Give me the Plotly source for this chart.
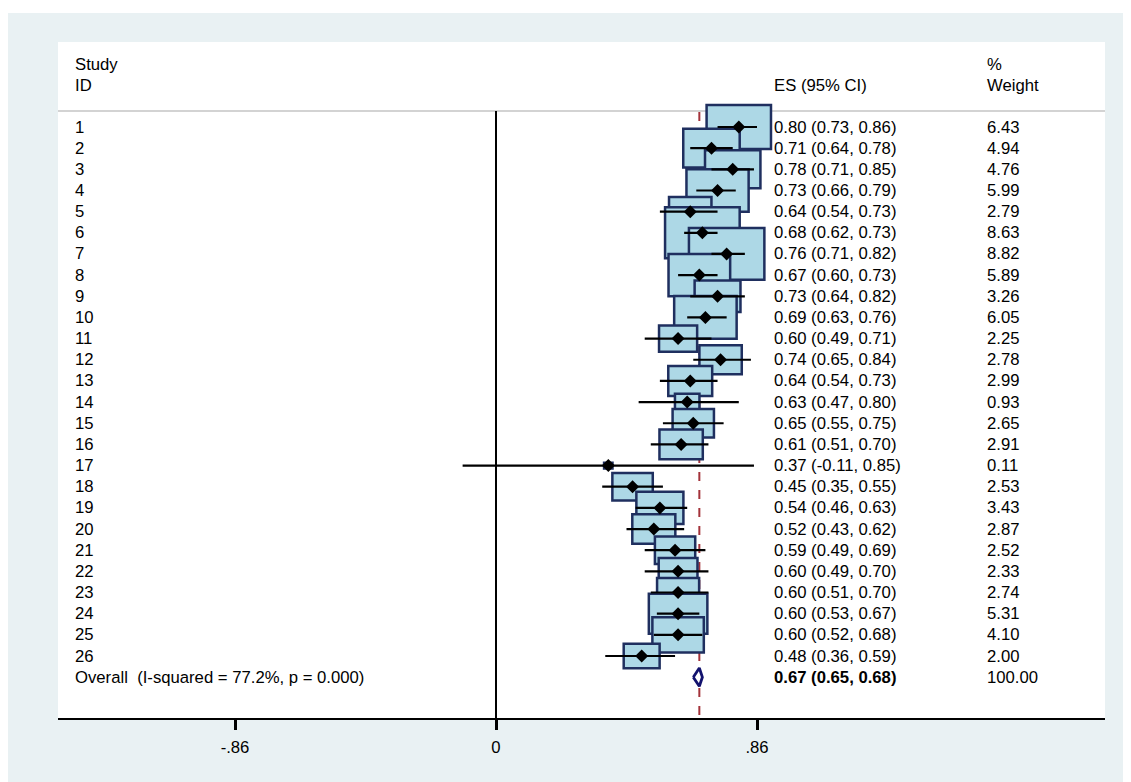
import plotly.graph_objects as go
import numpy as np

study_ids = [str(i) for i in range(1, 27)]
es =    [0.80, 0.71, 0.78, 0.73, 0.64, 0.68, 0.76, 0.67, 0.73, 0.69, 0.60, 0.74, 0.64,
         0.63, 0.65, 0.61, 0.37, 0.45, 0.54, 0.52, 0.59, 0.60, 0.60, 0.60, 0.60, 0.48]
lo =    [0.73, 0.64, 0.71, 0.66, 0.54, 0.62, 0.71, 0.60, 0.64, 0.63, 0.49, 0.65, 0.54,
         0.47, 0.55, 0.51, -0.11, 0.35, 0.46, 0.43, 0.49, 0.49, 0.51, 0.53, 0.52, 0.36]
hi =    [0.86, 0.78, 0.85, 0.79, 0.73, 0.73, 0.82, 0.73, 0.82, 0.76, 0.71, 0.84, 0.73,
         0.80, 0.75, 0.70, 0.85, 0.55, 0.63, 0.62, 0.69, 0.70, 0.70, 0.67, 0.68, 0.59]
weight = [6.43, 4.94, 4.76, 5.99, 2.79, 8.63, 8.82, 5.89, 3.26, 6.05, 2.25, 2.78, 2.99,
          0.93, 2.65, 2.91, 0.11, 2.53, 3.43, 2.87, 2.52, 2.33, 2.74, 5.31, 4.10, 2.00]
overall_label = "Overall  (I-squared = 77.2%, p = 0.000)"
overall_es, overall_lo, overall_hi, overall_w = 0.67, 0.65, 0.68, 100.00
tick_vals = [-0.86, 0, 0.86]
tick_text = ["-.86", "0", ".86"]

OFF = 8  # page body margin
W, H = 1131 - OFF, 782 - OFF
L, R, T, B = 58 - OFF, 1105 - OFF, 42 - OFF, 718 - OFF
X0PIX, PXU = 496.0 - OFF, 261.0 / 0.86
ROW1, ROWH = 127.0 - OFF, 21.16

def px2x(p):
    return (p - X0PIX) / PXU

def py2row(p):
    return 1 + (p - ROW1) / ROWH

xr = [px2x(L), px2x(R)]
yr = [py2row(B), py2row(T)]

FONT = "Liberation Sans, Arial, sans-serif"
FS = 16.7
BG = "#e9f1f3"
rows = list(range(1, 27))
overall_row = 27
sep_row = py2row(111 - OFF)

fig = go.Figure()
shapes = []
pw, ph = R - L, B - T
def pxp(p):
    return (p - L) / pw
def pyp(p):
    return 1 - (p - T) / ph
# white strip on top of the outer background
shapes.append(dict(type="rect", xref="paper", yref="paper", x0=pxp(0), x1=pxp(W), y0=pyp(0), y1=pyp(13 - OFF),
                   fillcolor="white", line=dict(width=0), layer="below"))
# separator
shapes.append(dict(type="line", xref="paper", yref="y", x0=0, x1=1, y0=sep_row, y1=sep_row,
                   line=dict(color="#c4c4c4", width=1.5), layer="below"))
# zero line
shapes.append(dict(type="line", xref="x", yref="y", x0=0, x1=0, y0=sep_row, y1=yr[0],
                   line=dict(color="black", width=2), layer="below"))
# overall dashed line
shapes.append(dict(type="line", xref="x", yref="y", x0=overall_es, x1=overall_es, y0=sep_row + 0.05, y1=yr[0],
                   line=dict(color="#a3323a", width=2, dash="dash"), layer="below"))
# weight boxes
for r, e, w in zip(rows, es, weight):
    hw = 12.7 * np.sqrt(w) / PXU
    hh = 8.7 * np.sqrt(w) / ROWH
    shapes.append(dict(type="rect", xref="x", yref="y", x0=e - hw, x1=e + hw, y0=r - hh, y1=r + hh,
                       fillcolor="#add8e6", line=dict(color="#1f2f5f", width=2.5), layer="below"))

# CI lines
cx, cy = [], []
for r, a, b in zip(rows, lo, hi):
    cx += [a, b, None]
    cy += [r, r, None]
fig.add_trace(go.Scatter(x=cx, y=cy, mode="lines", line=dict(color="black", width=2.2),
                         hoverinfo="skip", showlegend=False))
fig.add_trace(go.Scatter(x=es, y=rows, mode="markers",
                         marker=dict(symbol="diamond", size=10, color="black"),
                         showlegend=False))
# overall diamond
dh = 0.43
fig.add_trace(go.Scatter(x=[overall_lo, overall_es, overall_hi, overall_es, overall_lo],
                         y=[overall_row, overall_row - dh, overall_row, overall_row + dh, overall_row],
                         mode="lines", fill="toself", fillcolor="white",
                         line=dict(color="#12126e", width=2.8), showlegend=False))

ann = []
def txt(x, y, s, bold=False):
    ann.append(dict(x=x, y=y, xref="x", yref="y", text=("<b>%s</b>" % s) if bold else s,
                    showarrow=False, xanchor="left", yanchor="middle",
                    font=dict(family=FONT, size=FS, color="black")))

xs_id, xs_es, xs_w = px2x(76 - OFF - 3), px2x(775 - OFF - 3), px2x(988 - OFF - 3)
txt(xs_id, py2row(64 - OFF), "Study")
txt(xs_id, py2row(85 - OFF), "ID")
txt(xs_es, py2row(85 - OFF), "ES (95% CI)")
txt(xs_w, py2row(64 - OFF), "%")
txt(xs_w, py2row(85 - OFF), "Weight")
for r, sid, e, a, b, w in zip(rows, study_ids, es, lo, hi, weight):
    txt(xs_id, r, sid)
    txt(xs_es, r, "%.2f (%.2f, %.2f)" % (e, a, b))
    txt(xs_w, r, "%.2f" % w)
txt(xs_id, overall_row, overall_label)
txt(xs_es, overall_row, "%.2f (%.2f, %.2f)" % (overall_es, overall_lo, overall_hi), bold=True)
txt(xs_w, overall_row, "%.2f" % overall_w)

fig.update_layout(
    width=W, height=H,
    margin=dict(l=L, r=W - R, t=T, b=H - B, pad=0),
    paper_bgcolor=BG, plot_bgcolor="white",
    shapes=shapes, annotations=ann,
    xaxis=dict(range=xr, tickvals=tick_vals, ticktext=tick_text, showgrid=False, zeroline=False,
               showline=True, linecolor="black", linewidth=1.5, ticks="outside", ticklen=10,
               tickwidth=2.5, tickcolor="black", ticklabelstandoff=3,
               tickfont=dict(family=FONT, size=FS, color="black")),
    yaxis=dict(range=yr, visible=False, showgrid=False, zeroline=False),
    showlegend=False,
)
fig.write_html("out.html")
